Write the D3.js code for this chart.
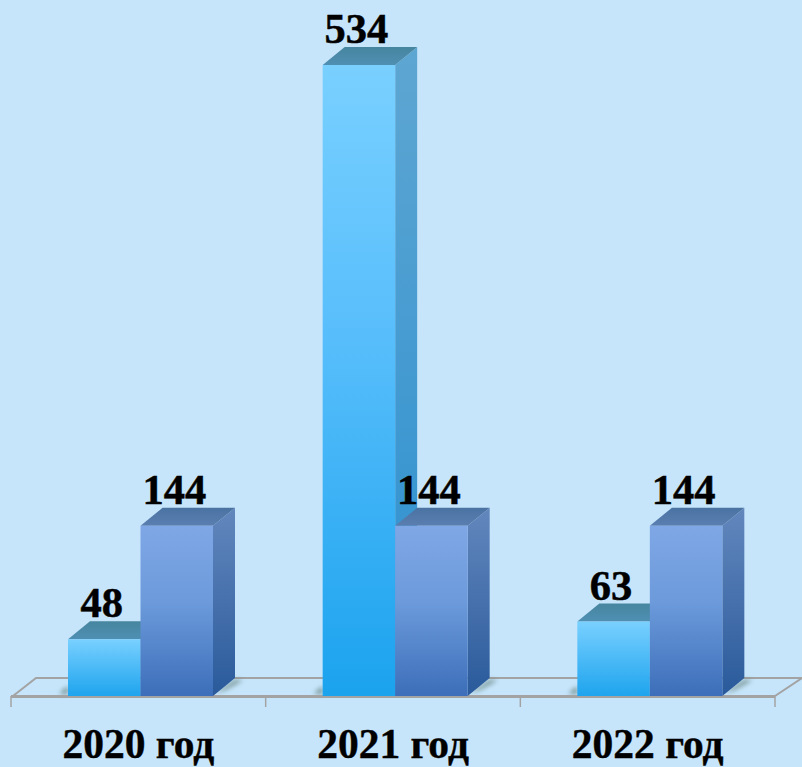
<!DOCTYPE html>
<html><head><meta charset="utf-8">
<script src="https://cdn.jsdelivr.net/npm/d3@7"></script>
<style>html,body{margin:0;padding:0;background:#c6e5fb;overflow:hidden}svg{display:block}</style>
</head><body><svg id="c" width="802" height="767"></svg>
<script>
const categories = ["2020 год","2021 год","2022 год"];
const seriesNames = ["first","second"];
const firstValues = [48,534,63];
const secondValues = [144,144,144];

const svg = d3.select("#c");
const defs = svg.append("defs");
const baseY = 696, topY = 65, dx = 22, dy = 18;
const x0 = d3.scaleBand().domain(categories).range([11,775]);
const x1 = d3.scaleBand().domain(seriesNames).range([57,202]);
const y = d3.scaleLinear().domain([0,534]).range([baseY,topY]);

function grad(id, stops, x2, y2){
  const g = defs.append("linearGradient").attr("id",id).attr("x1",0).attr("y1",0).attr("x2",x2||0).attr("y2",y2===undefined?1:y2);
  stops.forEach(s=>g.append("stop").attr("offset",s[0]).attr("stop-color",s[1]));
}
grad("frontA",[[0,"#79d0ff"],[1,"#1ea4ee"]]);
grad("frontTall",[[0,"#79d0ff"],[.45,"#56bdfb"],[1,"#1ba3ee"]]);
grad("sideA",[[0,"#5ea6d2"],[1,"#2a8fd0"]]);
grad("topA",[[0,"#47869f"],[1,"#4f8fb3"]]);
grad("frontB",[[0,"#7fa7e6"],[.45,"#6c9adb"],[1,"#3c6eb9"]]);
grad("sideB",[[0,"#6287bd"],[1,"#2a5a9b"]]);
grad("topB",[[0,"#4a73a2"],[1,"#5a7eb0"]]);
defs.append("filter").attr("id","soft").attr("x","-50%").attr("y","-50%").attr("width","200%").attr("height","200%")
  .append("feGaussianBlur").attr("stdDeviation",2.5);

// floor
const left = x0.range()[0], right = x0.range()[1];
const floorColor = "#a3a3a3";
const floor = svg.append("g");
floor.append("path").attr("fill","none").attr("stroke",floorColor).attr("stroke-width",2)
  .attr("d",`M${left+2},${baseY} L${left+25},${baseY-dy} H${right+27} L${right},${baseY}`);
categories.forEach(c=>{
  floor.append("line").attr("x1",x0(c)).attr("x2",x0(c)).attr("y1",baseY).attr("y2",baseY+11).attr("stroke",floorColor).attr("stroke-width",1.5);
});
floor.append("line").attr("x1",right).attr("x2",right).attr("y1",baseY).attr("y2",baseY+11).attr("stroke",floorColor).attr("stroke-width",1.5);

// shadows
const shadows = svg.append("g").attr("filter","url(#soft)").attr("fill","#5f7c74").attr("opacity",.85);
categories.forEach(c=>{
  const a = x0(c)+x1("first"), bEnd = x0(c)+x1("second")+x1.bandwidth();
  shadows.append("path").attr("d",`M${a-9},${baseY-2} L${a},${baseY-10} V${baseY-2} Z`);
  shadows.append("path").attr("d",`M${bEnd+2},${baseY-3} L${bEnd+dx},${baseY-dy+2} H${bEnd+dx+8} L${bEnd+12},${baseY-6} Z`);
});

svg.append("line").attr("x1",left).attr("x2",right).attr("y1",baseY+.5).attr("y2",baseY+.5).attr("stroke",floorColor).attr("stroke-width",3);

function bar3d(g, cat, name, val, front, side, top){
  const x = x0(cat)+x1(name), w = x1.bandwidth(), yy = y(val);
  g.append("path").attr("fill",`url(#${side})`).attr("d",`M${x+w},${yy} L${x+w+dx},${yy-dy} V${baseY-dy} L${x+w},${baseY} Z`);
  g.append("path").attr("fill",`url(#${top})`).attr("d",`M${x},${yy} L${x+dx},${yy-dy} H${x+w+dx} L${x+w},${yy} Z`);
  g.append("rect").attr("x",x).attr("y",yy).attr("width",w).attr("height",baseY-yy).attr("fill",`url(#${front})`);
}
const bars = svg.append("g");
categories.forEach((c,i)=>{
  bar3d(bars,c,"first",firstValues[i],firstValues[i]>300?"frontTall":"frontA","sideA","topA");
  bar3d(bars,c,"second",secondValues[i],"frontB","sideB","topB");
});

// value labels
const labels = svg.append("g").attr("font-family","'Liberation Serif',serif").attr("font-weight","bold").attr("font-size",42.5).attr("fill","#000").attr("stroke","#000").attr("stroke-width",.5).attr("text-anchor","middle");
categories.forEach((c,i)=>{
  [["first",firstValues[i]],["second",secondValues[i]]].forEach(([n,v])=>{
    labels.append("text").attr("x",x0(c)+x1(n)+x1.bandwidth()/2-2.5).attr("y",y(v)-22).text(v);
  });
});

// axis labels
const axis = svg.append("g").attr("transform",`translate(0,${baseY})`)
  .call(d3.axisBottom(x0).tickSize(0));
axis.select(".domain").remove();
axis.selectAll("text").attr("font-family","'Liberation Serif',serif").attr("font-weight","bold").attr("font-size",41.5).attr("fill","#000").attr("stroke","#000").attr("stroke-width",.4).attr("dy",0).attr("y",62);
</script></body></html>
